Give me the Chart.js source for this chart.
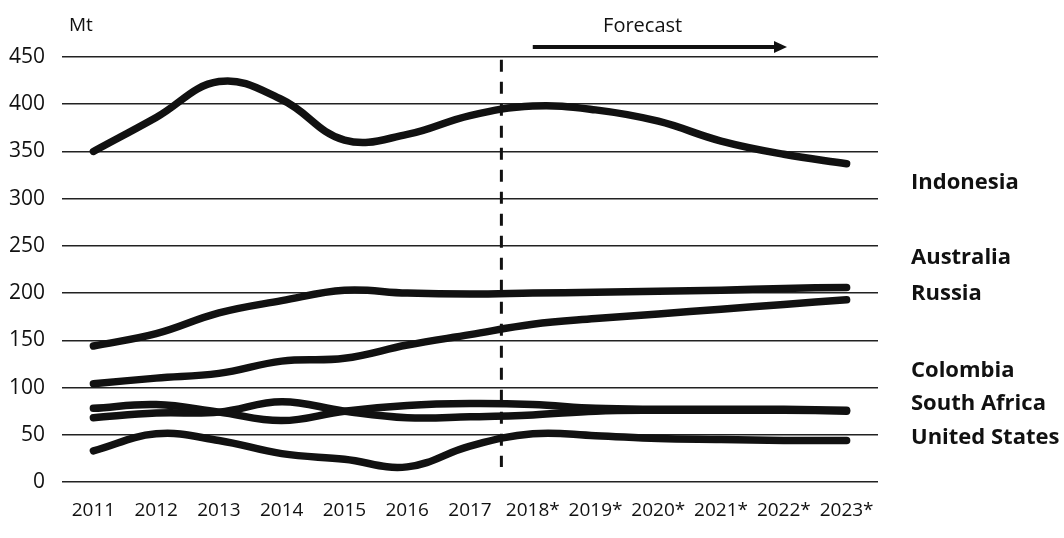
<!DOCTYPE html>
<html>
<head>
<meta charset="utf-8">
<script src="https://cdn.jsdelivr.net/npm/chart.js@4"></script>
<style>
  body { margin: 0; background: #fff; }
  canvas { display: block; }
</style>
</head>
<body>
<canvas id="exportsChart" width="1064" height="538"></canvas>
<script>
const years = ['2011', '2012', '2013', '2014', '2015', '2016', '2017', '2018*', '2019*', '2020*', '2021*', '2022*', '2023*'];
const indonesia = [350, 386, 424, 405, 362, 368, 388, 398, 394, 382, 361, 347, 337];
const australia = [144, 157, 179, 192, 203, 200, 199, 200, 201, 202, 203, 205, 206];
const russia = [104, 110, 115, 128, 131, 145, 156, 167, 173, 178, 183, 188, 193];
const colombia = [78, 82, 74, 65, 75, 81, 83, 82, 78, 77, 77, 77, 76];
const southAfrica = [68, 73, 74, 85, 75, 68, 69, 71, 75, 76, 76, 76, 75];
const unitedStates = [33, 51, 44, 30, 24, 16, 38, 51, 49, 46, 45, 44, 44];

const seriesNames = ['Indonesia', 'Australia', 'Russia', 'Colombia', 'South Africa', 'United States'];
const seriesData = [indonesia, australia, russia, colombia, southAfrica, unitedStates];
// where the country names sit, in axis units
const labelValues = [317, 237, 199, 118, 83, 47];

const FONT = "'Open Sans', 'DejaVu Sans', sans-serif";

// forecast marker, country names, unit label
const annotations = {
    id: 'annotations',
    afterDatasetsDraw(chart) {
        const { ctx, scales: { x, y } } = chart;
        ctx.save();
        ctx.fillStyle = '#111';
        ctx.strokeStyle = '#111';

        // dashed divider between actuals and forecast
        const dx = x.getPixelForValue(6.5);
        ctx.lineWidth = 3;
        ctx.setLineDash([12, 10]);
        ctx.beginPath();
        ctx.moveTo(dx, y.getPixelForValue(447));
        ctx.lineTo(dx, y.getPixelForValue(16));
        ctx.stroke();
        ctx.setLineDash([]);

        // forecast arrow
        const ax0 = x.getPixelForValue(7), ax1 = x.getPixelForValue(11.05);
        const ay = y.getPixelForValue(450) - 10;
        ctx.lineWidth = 4;
        ctx.beginPath();
        ctx.moveTo(ax0, ay);
        ctx.lineTo(ax1 - 10, ay);
        ctx.stroke();
        ctx.beginPath();
        ctx.moveTo(ax1, ay);
        ctx.lineTo(ax1 - 13, ay - 6);
        ctx.lineTo(ax1 - 13, ay + 6);
        ctx.closePath();
        ctx.fill();

        ctx.font = '20px ' + FONT;
        ctx.textAlign = 'center';
        ctx.textBaseline = 'middle';
        ctx.fillText('Forecast', x.getPixelForValue(8.75), 26);

        ctx.font = '19px ' + FONT;
        ctx.textAlign = 'left';
        ctx.fillText('Mt', 69, 26);

        // country names on the right
        ctx.font = 'bold 22px ' + FONT;
        seriesNames.forEach((name, i) => {
            ctx.fillText(name, 911, y.getPixelForValue(labelValues[i]));
        });
        ctx.restore();
    }
};

const ctx = document.getElementById('exportsChart').getContext('2d');
new Chart(ctx, {
    type: 'line',
    data: {
        labels: years,
        datasets: seriesData.map((data, i) => ({
            label: seriesNames[i],
            data,
            borderColor: '#111',
            borderWidth: 7.5,
            borderCapStyle: 'round',
            tension: 0.4,
            pointRadius: 0,
            fill: false
        }))
    },
    options: {
        responsive: false,
        animation: false,
        layout: { padding: { top: 57, right: 186, bottom: 0, left: 0 } },
        plugins: { legend: { display: false }, tooltip: { enabled: false } },
        scales: {
            x: {
                offset: true,
                grid: { display: false },
                border: { display: false },
                ticks: { color: '#111', font: { family: FONT, size: 19 }, padding: 9, maxRotation: 0, autoSkip: false },
                afterFit: s => { s.height = 56; }
            },
            y: {
                min: 0, max: 450,
                grid: { color: '#222', lineWidth: 1.5, drawTicks: false },
                border: { display: false },
                ticks: { stepSize: 50, color: '#111', font: { family: FONT, size: 21 }, padding: 17 },
                afterFit: s => { s.width = 62; }
            }
        }
    },
    plugins: [annotations]
});
</script>
</body>
</html>
